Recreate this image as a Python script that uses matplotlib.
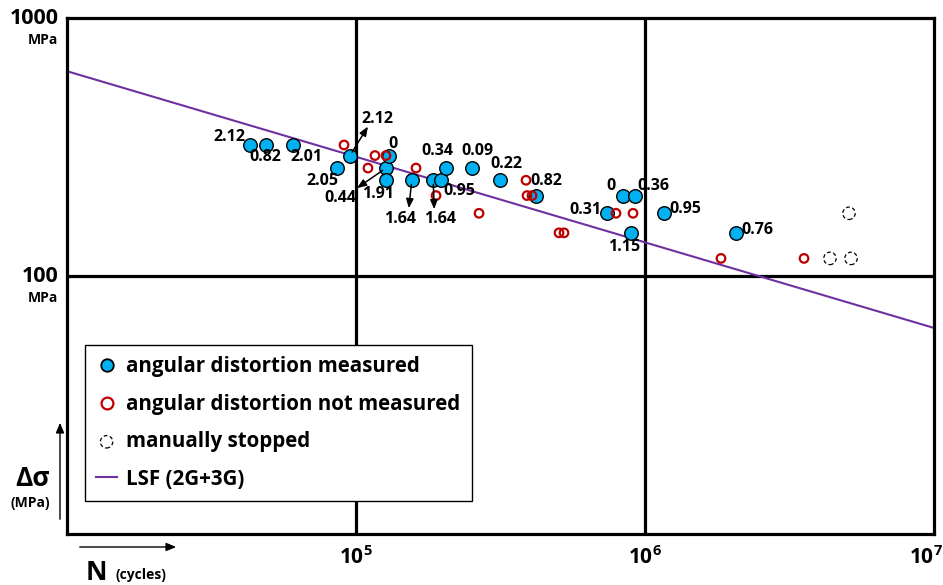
import matplotlib
matplotlib.use("Agg")
import matplotlib.pyplot as plt
import matplotlib.transforms as mtransforms
from matplotlib.lines import Line2D

plt.rcParams['font.family'] = ['Open Sans', 'DejaVu Sans']
plt.rcParams['font.weight'] = 'bold'
plt.rcParams['mathtext.fontset'] = 'custom'
plt.rcParams['mathtext.rm'] = 'Open Sans:bold'
plt.rcParams['mathtext.bf'] = 'Open Sans:bold'

# ---------------- data ----------------
meas_N = [43000, 48800, 60500, 86000, 95300, 127000, 130000, 127000, 156000,
          185000, 197000, 205000, 252000, 315000, 420000, 739000, 839000,
          923000, 894000, 1163000, 2065000]
meas_S = [322, 322, 322, 262, 293, 262, 293, 235, 235,
          235, 235, 262, 262, 235, 205, 175, 205,
          205, 147, 175, 147]
meas_lab = ["2.12", "0.82", "2.01", "2.05", "2.12", "0.44", "0", "1.91", "1.64",
            "1.64", "0.95", "0.34", "0.09", "0.22", "0.82", "0.31", "0",
            "0.36", "1.15", "0.95", "0.76"]

notm_N = [90900, 110000, 116300, 127000, 161300, 189200, 266500, 387500,
          390600, 406400, 504100, 524600, 793700, 908900, 1832000, 3550000]
notm_S = [322, 262, 293, 293, 262, 205, 175, 235,
          205, 205, 147, 147, 175, 175, 117, 117]

stop_N = [5080000, 4365000, 5162000]
stop_S = [175, 117, 117]

lsf_N = [1e4, 1e7]
lsf_S = [622, 62.9]

x_ticks = [1e5, 1e6, 1e7]
x_tick_labels = [r'$\mathbf{10^{5}}$', r'$\mathbf{10^{6}}$', r'$\mathbf{10^{7}}$']
y_ticks = [100, 1000]
y_tick_labels = ["100", "1000"]

legend_labels = ["angular distortion measured", "angular distortion not measured",
                 "manually stopped", "LSF (2G+3G)"]

# label offsets in pixels (dx right, dy up) and arrows (tip offsets in pixels)
lab_off = [(-21, 8), (-1, -12), (14, -12), (-15, -13), (27, 37), (-46, -30),
           (4, 12), (-8, -14), (-12, -39), (7, -39), (18, -11), (-9, 17),
           (5, 17), (6, 16), (10, 15), (-22, 3), (-12, 10), (18, 10),
           (-7, -14), (21, 4), (21, 3)]
arrow_tip = {4: (18, 29), 5: (-29, -20), 8: (-3, -28), 9: (1, -29)}

# ---------------- figure ----------------
W, H = 943, 585
fig = plt.figure(figsize=(W / 100, H / 100), dpi=100)
ax = fig.add_axes([67 / W, 1 - 534 / H, (934 - 67) / W, (534 - 18) / H])
ax.set_xscale('log')
ax.set_yscale('log')
ax.set_xlim(1e4, 1e7)
ax.set_ylim(10, 1000)

for s in ax.spines.values():
    s.set_linewidth(2.3)
    s.set_color('black')

ax.minorticks_off()
ax.tick_params(length=0)
ax.set_xticks(x_ticks)
ax.set_xticklabels(x_tick_labels, fontsize=15)
ax.tick_params(axis='x', pad=9)
ax.set_yticks([])
ax.set_yticks([], minor=True)
last = ax.get_xticklabels()[-1]
last.set_horizontalalignment('right')
last.set_transform(last.get_transform() +
                   mtransforms.ScaledTranslation(9 / 100, 0, fig.dpi_scale_trans))

for xv in x_ticks[:-1]:
    ax.axvline(xv, color='black', lw=2.3, zorder=1)
ax.axhline(y_ticks[0], color='black', lw=2.3, zorder=1)

# y labels
ytr = mtransforms.blended_transform_factory(fig.transFigure, ax.transData)
for yv, lab in zip(y_ticks, y_tick_labels):
    ax.text(59 / W, yv, lab, transform=ytr, ha='right', va='center', fontsize=15.5,
            fontweight='bold')
    ax.annotate("MPa", xy=(43 / W, yv), xycoords=ytr, xytext=(0, -16),
                textcoords='offset points', ha='center', va='center',
                fontsize=10, fontweight='bold', annotation_clip=False)

# LSF line
ax.plot(lsf_N, lsf_S, color='#7030A0', lw=1.5, zorder=2)

# points
ax.scatter(meas_N, meas_S, s=95, facecolor='#00B0F0', edgecolor='black',
           linewidths=1.0, zorder=3)
ax.scatter(notm_N, notm_S, s=38, facecolor='none', edgecolor='#C00000',
           linewidths=1.6, zorder=4)
sc_s = ax.scatter(stop_N, stop_S, s=80, facecolor='none', edgecolor='black',
                  linewidths=0.9, linestyles=(0, (3, 2)), zorder=4)

k = 0.72  # px -> pt
for i, (n, s, lab) in enumerate(zip(meas_N, meas_S, meas_lab)):
    dx, dy = lab_off[i]
    ax.annotate(lab, xy=(n, s), xytext=(dx * k, dy * k), textcoords='offset points',
                ha='center', va='center', fontsize=11.5, fontweight='bold', zorder=5)
    if i in arrow_tip:
        tx, ty = arrow_tip[i]
        ax.annotate("", xy=(n, s), xytext=(tx * k, ty * k), textcoords='offset points',
                    arrowprops=dict(arrowstyle='<|-,head_length=0.55,head_width=0.22',
                                    color='black', lw=1.1, shrinkA=0, shrinkB=3),
                    zorder=5)

# legend
h1 = Line2D([], [], ls='none', marker='o', ms=9, mfc='#00B0F0', mec='black', mew=1.3)
h2 = Line2D([], [], ls='none', marker='o', ms=8.5, mfc='none', mec='#C00000', mew=1.6)
h4 = Line2D([], [], color='#7030A0', lw=1.5)
leg = ax.legend([h1, h2, sc_s, h4], legend_labels, loc='upper left',
                bbox_to_anchor=((85 - 67) / (934 - 67), 1 - (345 - 18) / (534 - 18)),
                prop={'weight': 'bold', 'size': 14.8}, frameon=True, fancybox=False,
                edgecolor='black', framealpha=1, handlelength=1.0,
                handletextpad=0.45, labelspacing=0.8, borderpad=0.55,
                borderaxespad=0, scatterpoints=1)
leg.get_frame().set_linewidth(1.0)
leg.set_zorder(6)

# axis-name arrows and labels (bottom-left)
fig.add_artist(matplotlib.patches.FancyArrowPatch(
    (77 / W, 1 - 547 / H), (179 / W, 1 - 547 / H), transform=fig.transFigure,
    arrowstyle='-|>,head_length=6,head_width=2.5', color='black', lw=1.0))
fig.add_artist(matplotlib.patches.FancyArrowPatch(
    (60 / W, 1 - 522 / H), (60 / W, 1 - 420 / H), transform=fig.transFigure,
    arrowstyle='-|>,head_length=6,head_width=2.5', color='black', lw=1.0))
fig.text(96 / W, 1 - 572 / H, "N", fontsize=19, fontweight='bold', ha='center', va='center')
fig.text(141 / W, 1 - 575 / H, "(cycles)", fontsize=10, fontweight='bold', ha='center', va='center')
fig.text(33 / W, 1 - 478 / H, "Δσ", fontsize=19, fontweight='bold', ha='center', va='center')
fig.text(30 / W, 1 - 503 / H, "(MPa)", fontsize=10, fontweight='bold', ha='center', va='center')

fig.savefig("out.png", dpi=100)
